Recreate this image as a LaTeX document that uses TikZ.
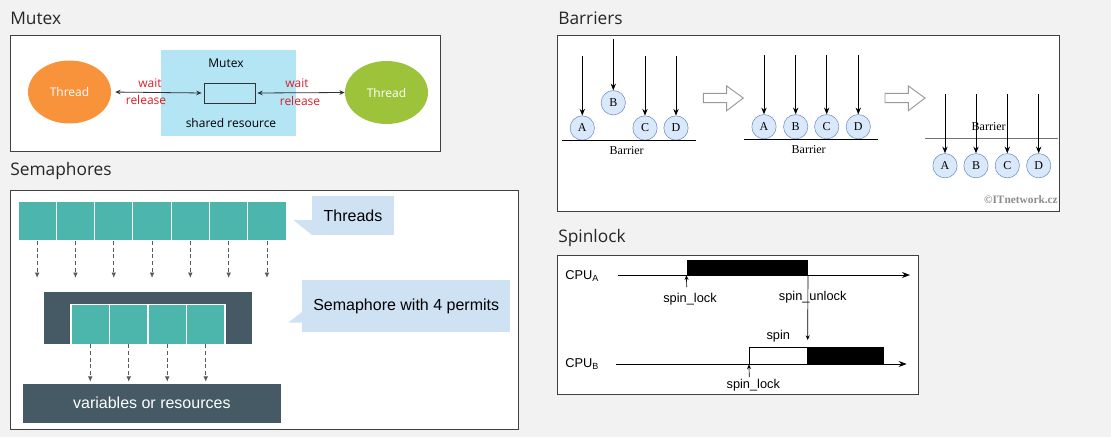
\documentclass[tikz,border=0pt]{standalone}
\usepackage{fontspec}
\setmainfont{Open Sans}
\newfontfamily\arialfont{Liberation Sans}
\newfontfamily\drawiofont{Liberation Serif}
\usetikzlibrary{
  arrows.meta,
  positioning,
  shapes.geometric
}
\definecolor{pagegray}{HTML}{F2F2F2}
\definecolor{mxorange}{HTML}{F8933B}
\definecolor{mxgreen}{HTML}{9DC33B}
\definecolor{mxblue}{HTML}{B3E5F5}
\definecolor{mxred}{HTML}{D7202B}
\definecolor{smteal}{HTML}{4DB6AC}
\definecolor{smdark}{HTML}{455A64}
\definecolor{smnote}{HTML}{CFE2F3}
\definecolor{brfill}{HTML}{DAE8FC}
\definecolor{brline}{HTML}{6C8EBF}

\begin{document}
\begin{tikzpicture}[
  x=0.75pt, y=-0.75pt,
  panel/.style={draw=black!75, fill=white, line width=0.7pt},
  title/.style={anchor=west, inner sep=0pt, text=black!85,
    font=\fontsize{13}{15}\selectfont},
  thread/.style={ellipse, minimum width=62.25pt, minimum height=47.25pt,
    inner sep=0pt, text=white, font=\fontsize{9}{11}\selectfont},
  mxtext/.style={font=\fontsize{9}{11}\selectfont, inner sep=0pt},
  mxlabel/.style={mxtext, text=mxred},
  dblarrow/.style={draw=black!80, line width=0.6pt,
    {Stealth[length=4pt,width=3.5pt]}-{Stealth[length=4pt,width=3.5pt]}},
  sqbox/.style={fill=smteal, draw=white, line width=0.8pt, inner sep=0pt,
    outer sep=0pt},
  note/.style={fill=smnote, inner sep=0pt, outer sep=0pt,
    font=\arialfont\fontsize{12}{14}\selectfont},
  dasharrow/.style={draw=black!65, line width=0.6pt, dash pattern=on 3pt off 2pt,
    -{Latex[length=4pt,width=3.5pt]}},
  bcirc/.style={circle, draw=brline, fill=brfill, minimum size=18.25pt,
    inner sep=0pt, font=\drawiofont\fontsize{9}{11}\selectfont},
  barrow/.style={draw=black, line width=0.7pt, -{Stealth[length=5pt,width=4pt]}},
  blabel/.style={font=\drawiofont\fontsize{9}{11}\selectfont, inner sep=0pt},
  blockarrow/.style={draw=black!40, fill=white, line width=0.7pt},
  spfont/.style={font=\arialfont\fontsize{9.6}{11}\selectfont, inner sep=0pt},
  saxis/.style={draw=black, line width=0.7pt, -{Stealth[length=6pt,width=4.5pt]}},
  sarrow/.style={draw=black, line width=0.5pt, -{Stealth[length=3.5pt,width=3pt]}}
]

  \fill[pagegray] (0,0) rectangle (1111,437);
  \useasboundingbox (0,0) rectangle (1111,437);

  % Mutex
  \node[title] (mutextitle) at (10,18) {Mutex};
  \draw[panel] (10,35) rectangle (440,151);
  \node[fill=mxblue, minimum width=101.25pt, minimum height=64.5pt,
    inner sep=0pt] (mutexbox) at (228.5,93) {};
  \node[mxtext] (mutexname) at (226,63) {Mutex};
  \node[mxtext] (shared) at (231,123) {shared resource};
  \node[draw=black!80, minimum width=38.25pt, minimum height=15pt,
    inner sep=0pt, line width=0.6pt] (res) at (229.5,93) {};
  \node[thread, fill=mxorange] (threadL) at (69.5,92) {Thread};
  \node[thread, fill=mxgreen] (threadR) at (386.5,92.5) {Thread};
  \draw[dblarrow, shorten <=3pt, shorten >=1.5pt] (threadL.east) -- (res.west);
  \draw[dblarrow, shorten <=1.5pt] (res.east) -- (threadR.west);
  \node[mxlabel] (waitL) at (150,83) {wait};
  \node[mxlabel] (releaseL) at (146,100) {release};
  \node[mxlabel] (waitR) at (297,83) {wait};
  \node[mxlabel] (releaseR) at (300,101) {release};

  % Semaphores
  \node[title] (semtitle) at (10,171) {Semaphores};
  \draw[panel] (10,190) rectangle (518,429);
  \foreach \i in {0,...,6} {
    \node[sqbox, minimum width=28.7pt, minimum height=29.8pt]
      (t\i) at (37.15+38.3*\i,221) {};
    \draw[dasharrow] (t\i.south) -- ++(0,37);
  }
  \node[note, minimum width=61.5pt, minimum height=29.25pt]
    (threadsnote) at (353,215.5) {Threads};
  \fill[smnote] (293.3,220) -- (threadsnote.west |- 0,220)
    -- (threadsnote.south west) -- cycle;

  \node[fill=smdark, minimum width=155.8pt, minimum height=39pt,
    inner sep=0pt] (sembox) at (147.85,318.3) {};
  \foreach \i in {0,...,3} {
    \node[sqbox, minimum width=28.9pt, minimum height=30pt]
      (p\i) at (90.25+38.5*\i,324.3) {};
    \draw[dasharrow] (p\i.south) -- ++(0,37.4);
  }
  \node[note, minimum width=155.8pt, minimum height=38.8pt]
    (semnote) at (406.2,305.9) {Semaphore with 4 permits};
  \fill[smnote] (288.3,322.7) -- (semnote.west |- 0,311.7)
    -- (semnote.west |- 0,322.7) -- cycle;
  \node[fill=smdark, text=white, minimum width=193.7pt, minimum height=29.25pt,
    inner sep=0pt, font=\arialfont\fontsize{12}{14}\selectfont]
    (resources) at (151.85,403.2) {variables or resources};

  % Barriers
  \node[title] (bartitle) at (558,18) {Barriers};
  \draw[panel] (557,35) rectangle (1059,211);
  \foreach \n/\x/\y/\t in {A/582.3/128/56, B/613.3/102.7/39.3,
      C/645/128/56, D/676/128/56} {
    \node[bcirc] (\n1) at (\x,\y) {\n};
    \coordinate (\n1top) at (\x,\t);
    \draw[barrow] (\n1top) -- (\n1.north);
  }
  \draw[line width=0.8pt] (562.3,140.3) -- (696,140.3);
  \node[blabel] (barrier1) at (626.7,151) {Barrier};

  \foreach \dx in {0,181.7}
    \draw[blockarrow, shift={(\dx,0)}] (703.3,93.3) -- (726.7,93.3)
      -- (726.7,86) -- (743.3,98) -- (726.7,110.7) -- (726.7,102.7)
      -- (703.3,102.7) -- cycle;

  \foreach \n/\x in {A/764, B/795.7, C/826.7, D/858.3} {
    \node[bcirc] (\n2) at (\x,126.7) {\n};
    \coordinate (\n2top) at (\x,55);
    \draw[barrow] (\n2top) -- (\n2.north);
  }
  \draw[line width=0.8pt] (744.3,139.3) -- (877.7,139.3);
  \node[blabel] (barrier2) at (808.7,150) {Barrier};

  \draw[line width=0.8pt, draw=black!55] (925,138.7) -- (1058.3,138.7);
  \node[blabel] (barrier3) at (988.7,126.3) {Barrier};
  \foreach \n/\x in {A/945, B/976, C/1007.3, D/1038.7} {
    \node[bcirc] (\n3) at (\x,165.7) {\n};
    \coordinate (\n3top) at (\x,94.3);
    \draw[barrow] (\n3top) -- (\n3.north);
  }
  \node[anchor=east, inner sep=0pt, text=black!45,
    font=\drawiofont\bfseries\fontsize{8.5}{10}\selectfont]
    (copyright) at (1058,200) {©ITnetwork.cz};

  % Spinlock
  \node[title] (spintitle) at (558,238) {Spinlock};
  \draw[panel] (557,255) rectangle (918,394);
  \node[spfont, anchor=west] (cpuA) at (565,276) {CPU\textsubscript{A}};
  \coordinate (axisAstart) at (618.3,275);
  \coordinate (axisAend) at (910,275);
  \draw[saxis] (axisAstart) -- (axisAend);
  \node[fill=black, minimum width=90.75pt, minimum height=11.25pt,
    inner sep=0pt] (holdA) at (747.2,267.5) {};
  \node[spfont] (lockA) at (690,299) {spin\_lock};
  \coordinate (lockAtail) at (686.7,287);
  \draw[sarrow] (lockAtail) -- (holdA.south west);
  \node[spfont] (unlock) at (812.7,297) {spin\_unlock};
  \coordinate (unlockend) at (807.7,340);
  \draw[sarrow] (holdA.south east) -- (unlockend);
  \node[spfont] (spinlabel) at (778.3,336) {spin};

  \node[spfont, anchor=west] (cpuB) at (565,364) {CPU\textsubscript{B}};
  \coordinate (axisBstart) at (616,364);
  \coordinate (axisBend) at (906.7,364);
  \draw[saxis] (axisBstart) -- (axisBend);
  \node[draw=black, fill=white, line width=0.6pt, minimum width=43.8pt,
    minimum height=12.75pt, inner sep=0pt] (spinB) at (778.5,355.5) {};
  \node[fill=black, minimum width=57.2pt, minimum height=12.75pt,
    inner sep=0pt] (holdB) at (845.85,355.5) {};
  \node[spfont] (lockB) at (753.3,385.5) {spin\_lock};
  \coordinate (lockBtail) at (749.3,377);
  \draw[sarrow] (lockBtail) -- (spinB.south west);

\end{tikzpicture}
\end{document}
